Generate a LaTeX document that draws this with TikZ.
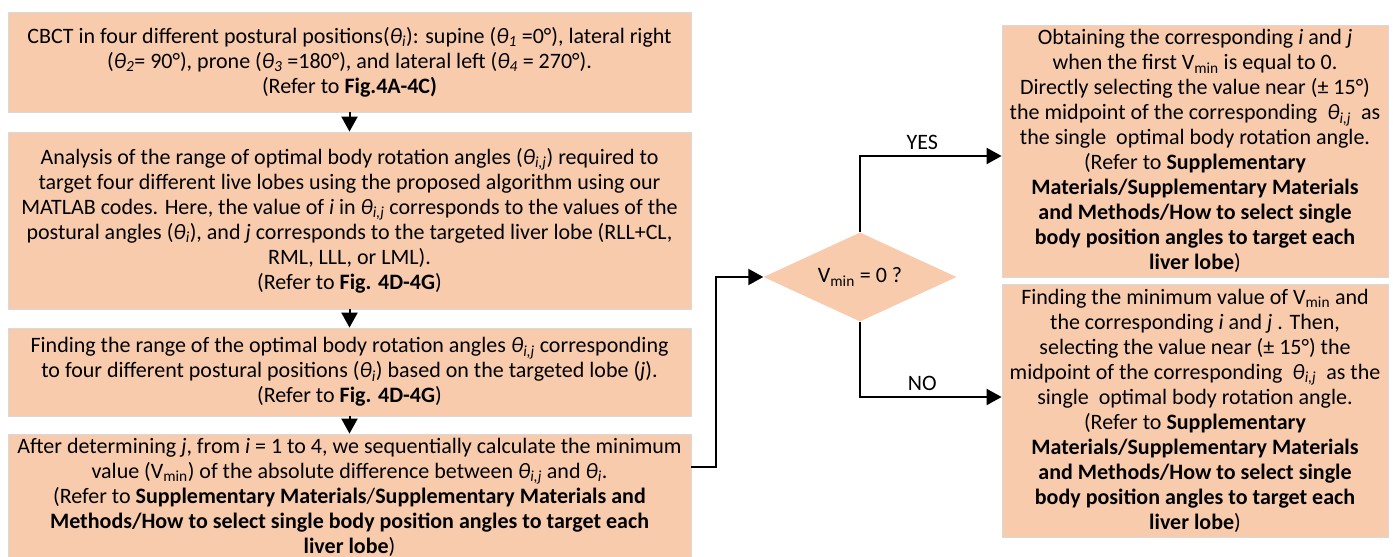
\documentclass[tikz,border=0pt]{standalone}
\usepackage{fontspec}
\setmainfont{Carlito}
\usetikzlibrary{shapes.geometric,arrows.meta,positioning}

\definecolor{peach}{HTML}{F8CBAD}
\newcommand{\thij}{\textit{θ\textsubscript{i,j}}}
\newcommand{\thn}[1]{\textit{θ\textsubscript{#1}}}
\newcommand{\vmin}{V\textsubscript{min}}

\tikzset{
  box/.style={draw=black!15, line width=0.8pt, fill=peach, align=center, inner sep=0pt},
  decision/.style={diamond, fill=peach, inner sep=0pt, aspect=2.2},
  flow/.style={line width=2pt, -{Triangle[width=16pt,length=15pt]}},
  every node/.style={font=\fontsize{22}{25}\selectfont}
}

\begin{document}
\begin{tikzpicture}[x=1pt,y=-1pt]
\useasboundingbox (0,0) rectangle (1393,557);

% left column
\node[box, minimum width=683pt, minimum height=100pt] (cbct) at (349.5,62) {CBCT in four different postural positions(\thn{i}): supine (\thn{1} =0°), lateral right\\ (\thn{2}= 90°), prone (\thn{3} =180°), and lateral left (\thn{4} = 270°).\\ (Refer to \textbf{Fig.4A-4C)}};
\node[box, minimum width=683pt, minimum height=177pt] (analysis) at (349.5,220.5) {Analysis of the range of optimal body rotation angles (\thij) required to\\ target four different live lobes using the proposed algorithm using our\\ MATLAB codes. Here, the value of \textit{i} in \thij{}  corresponds to the values of the\\ postural angles (\thn{i}), and \textit{j} corresponds to the targeted liver lobe (RLL+CL,\\ RML, LLL, or LML).\\ (Refer to \textbf{Fig. 4D-4G})};
\node[box, minimum width=683pt, minimum height=88pt] (range) at (349.5,372) {Finding the range of the optimal body rotation angles \thij{} corresponding\\ to four different postural positions (\thn{i}) based on the targeted lobe (\textit{j}).\\ (Refer to \textbf{Fig. 4D-4G})};
\node[box, minimum width=683pt, minimum height=126pt] (calc) at (349.5,497) {After determining \textit{j}, from \textit{i} = 1 to 4, we sequentially calculate the minimum\\ value (\vmin) of the absolute difference between \thij{} and \thn{i}.\\ (Refer to \textbf{Supplementary Materials}/\textbf{Supplementary Materials and}\\ \textbf{Methods/How to select single body position angles to target each}\\ \textbf{liver lobe})};

% decision
\node[decision, minimum width=193pt, minimum height=89pt] (test) at (860,277) {\vmin{} = 0 ?};

% right column
\node[box, minimum width=386pt, minimum height=252pt] (yes) at (1195,151) {Obtaining the corresponding \textit{i} and \textit{j}\\ when the first \vmin{} is equal to 0.\\ Directly selecting the value near (± 15°)\\ the midpoint of the corresponding \ \thij{} \ as\\ the single \ optimal body rotation angle.\\ (Refer to \textbf{Supplementary}\\ \textbf{Materials/Supplementary Materials}\\ \textbf{and Methods/How to select single}\\ \textbf{body position angles to target each}\\ \textbf{liver lobe})};
\node[box, minimum width=386pt, minimum height=253pt] (no) at (1195,410.5) {Finding the minimum value of \vmin{} and\\ the corresponding \textit{i} and \textit{j} . Then,\\ selecting the value near (± 15°) the\\ midpoint of the corresponding \ \thij{} \ as the\\ single \ optimal body rotation angle.\\ (Refer to \textbf{Supplementary}\\ \textbf{Materials/Supplementary Materials}\\ \textbf{and Methods/How to select single}\\ \textbf{body position angles to target each}\\ \textbf{liver lobe})};

% connectors
\draw[flow] (cbct) -- (analysis);
\draw[flow] (analysis) -- (range);
\draw[flow] (range) -- (calc);
\coordinate (bend) at (716,467);
\draw[flow] (bend -| calc.east) -- (bend) |- (test.west);
\draw[flow] (test.north) |- ([yshift=-5pt]yes.west) node[pos=0.72, above=2pt] {YES};
\draw[flow] (test.south) |- ([yshift=13.5pt]no.west) node[pos=0.72, above=2pt] {NO};
\end{tikzpicture}
\end{document}
